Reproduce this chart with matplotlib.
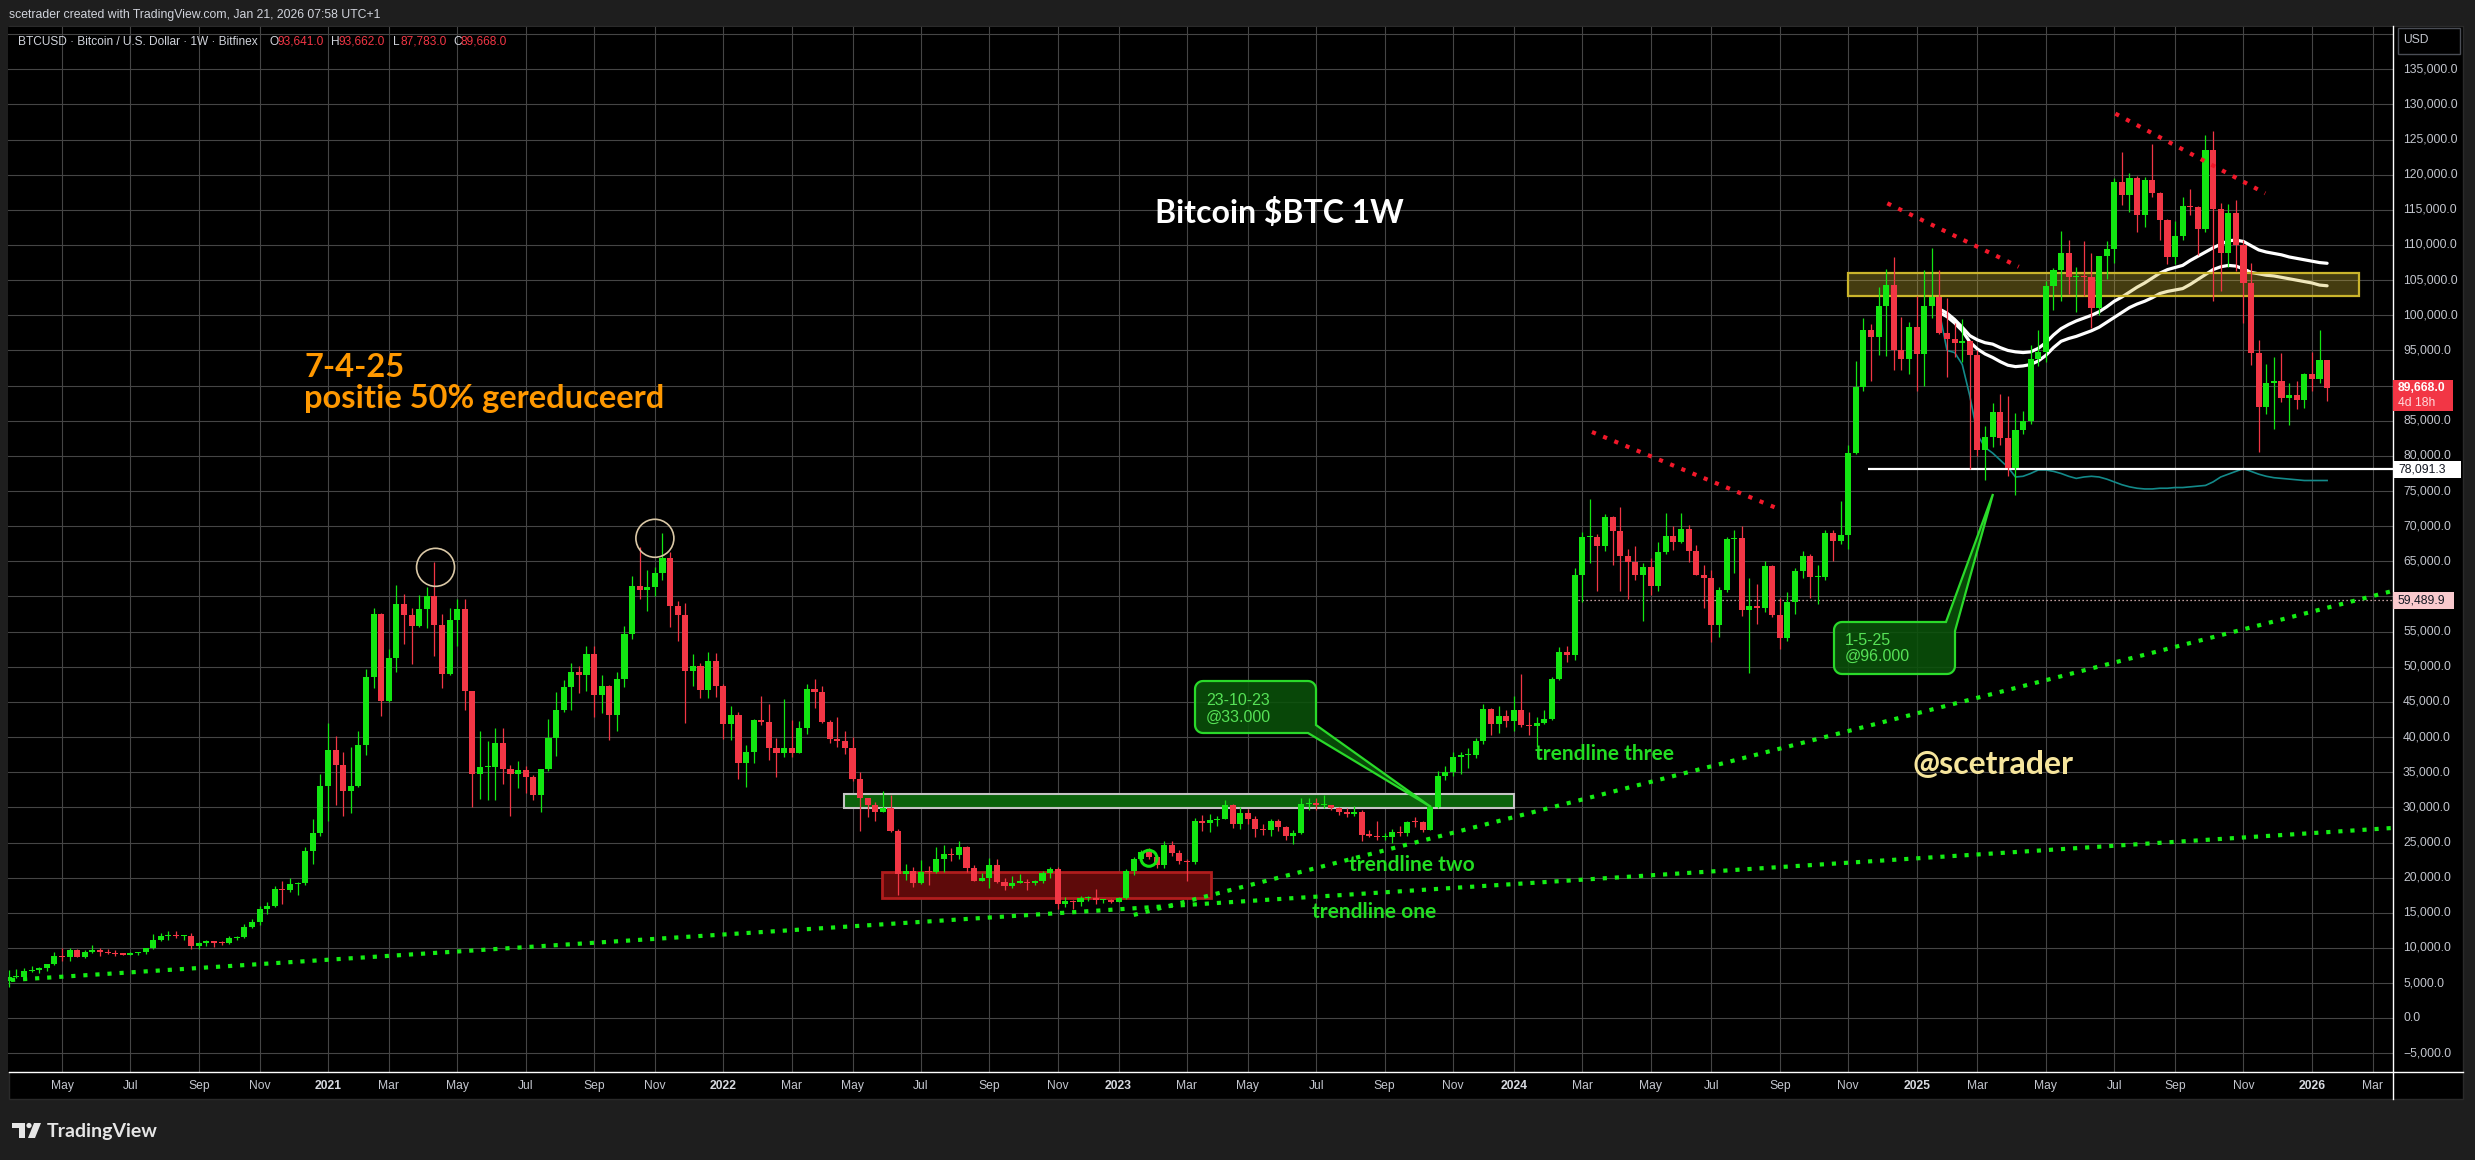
import numpy as np
import pandas as pd
import matplotlib
matplotlib.use("Agg")
import matplotlib.pyplot as plt
from matplotlib.patches import Rectangle, Ellipse, Polygon, Circle
from matplotlib.lines import Line2D
from matplotlib.transforms import Affine2D

# ---------------- data (weekly BTCUSD, Bitfinex) ----------------
first_week = "2020-03-16"
first_open = 5360

closes_2020 = [5830, 5880, 6780, 6900, 7120, 7700, 8900, 8720, 9680, 8720, 9450, 9750, 9380, 9300,
               9120, 9070, 9250, 9380, 9930, 11070, 11680, 11900, 11650, 11710, 10250, 10680, 10930,
               10780, 10680, 11380, 11500, 13030, 13740, 15480, 15960, 18400, 18180, 19150, 19270,
               23850, 26300, 33000]
highs_2020 = [6900, 6980, 7200, 7470, 7300, 7770, 9450, 10060, 9950, 9900, 9750, 10400, 9990, 9800,
              9780, 9320, 9480, 9400, 10040, 12000, 12080, 12470, 12480, 11800, 12090, 10800, 11100,
              10960, 10950, 11700, 11720, 13370, 14070, 15970, 16480, 18800, 19480, 19900, 19420,
              24300, 28400, 34800]
lows_2020 = [4450, 5680, 5860, 6650, 6460, 6750, 7650, 8120, 8200, 8700, 8630, 9300, 8900, 9200,
             8800, 8940, 9060, 9000, 9150, 9900, 10950, 11140, 11370, 11120, 9880, 9900, 10220,
             10150, 10380, 10540, 11200, 11400, 12900, 13200, 14800, 15800, 16200, 18000, 17600,
             19000, 22000, 26000]

closes_2021 = [38200, 36000, 32300, 33100, 38900, 48600, 57500, 45200, 51200, 59000, 57300, 55800,
               58200, 60000, 56000, 49000, 56600, 58200, 46500, 34700, 35700, 35800, 39100, 35500,
               34700, 35300, 34300, 31800, 35400, 39900, 43800, 47100, 49300, 48800, 51800, 46000,
               47250, 43200, 48200, 54700, 61500, 60900, 61300, 63300, 65500, 58600, 57300, 49400,
               50100, 46700, 50800, 47300]
highs_2021 = [41950, 40100, 37850, 38600, 40900, 49700, 58300, 57600, 52600, 61700, 60400, 58400,
              60200, 61300, 64850, 57500, 58400, 59600, 59600, 46600, 40800, 39400, 41300, 41300,
              36000, 36600, 35900, 34600, 35500, 42600, 46400, 48100, 50500, 50100, 52900, 52900,
              48800, 47400, 49200, 55800, 62900, 67000, 63700, 64200, 69000, 66300, 59300, 59100,
              51800, 50500, 52100, 52000]
lows_2021 = [28130, 30400, 28800, 29250, 32900, 37400, 47000, 43000, 45000, 49300, 53300, 50400,
             55600, 55500, 51500, 47000, 48800, 53000, 43800, 30000, 31200, 31100, 31000, 33300,
             28800, 32700, 32100, 31000, 29300, 35200, 37300, 43600, 43900, 46300, 46500, 42800,
             43400, 39600, 40800, 47100, 53900, 59600, 58000, 60100, 62300, 55600, 53600, 42000,
             47200, 45500, 45600, 45700]

closes_2022 = [41800, 43100, 36300, 37900, 42400, 42200, 38400, 37700, 38400, 37800, 41300, 46800,
               46400, 42200, 39700, 39500, 38450, 34000, 31300, 30300, 29400, 29900, 26600, 20500,
               21000, 19300, 20800, 20750, 22600, 23400, 23200, 24300, 21400, 19600, 19900, 21800,
               19420, 18800, 19300, 19400, 19200, 19600, 20600, 21200, 16300, 16700, 16500, 17100,
               17100, 16800, 16800, 16600]
highs_2022 = [47600, 44400, 43500, 38900, 42600, 45800, 44700, 39900, 45400, 42500, 42300, 47500,
              48200, 47200, 42400, 42900, 40800, 40000, 35000, 31300, 30700, 32400, 31700, 26900,
              21900, 21500, 22500, 21600, 24300, 24700, 24200, 25200, 24500, 21800, 20600, 22800,
              22700, 19900, 20300, 20500, 19800, 19700, 21000, 21500, 21500, 17200, 16800, 17400,
              17400, 18400, 17000, 16900]
lows_2022 = [39700, 39600, 34000, 32900, 36300, 41700, 36800, 34300, 37200, 37200, 37700, 40500,
             44200, 42000, 39200, 38600, 37600, 33700, 26700, 28700, 28000, 29300, 26500, 17600,
             19700, 18700, 19100, 18900, 20700, 20800, 22400, 22700, 20800, 19500, 19500, 18600,
             19300, 18200, 18500, 19200, 18200, 18900, 19300, 20000, 15600, 15800, 15500, 16000,
             16700, 16300, 16400, 16400]

closes_2023 = [17100, 20900, 22700, 23700, 22900, 21800, 24600, 23500, 22400, 22200, 28000, 27800,
               28200, 28400, 30300, 27600, 29200, 28400, 26900, 26750, 28080, 27230, 25900, 26300,
               30500, 30600, 30300, 30300, 29900, 29300, 29000, 29400, 26100, 26000, 25800, 25800,
               26500, 26300, 27980, 27940, 26850, 29990, 34500, 35000, 37100, 37400, 37500, 39500,
               44000, 41900, 43000, 42300]
highs_2023 = [17200, 21300, 23000, 23900, 24200, 23200, 25200, 25200, 23900, 22600, 28500, 28900,
              29100, 28800, 31000, 30500, 30000, 29800, 28800, 27600, 28400, 28400, 27400, 26800,
              31400, 31300, 31400, 31800, 30400, 30000, 29900, 30200, 29700, 26800, 28100, 26400,
              26900, 27400, 28100, 28600, 28000, 30300, 35200, 35900, 37900, 37900, 38400, 39800,
              44700, 44100, 44400, 43800]
lows_2023 = [16500, 17000, 20400, 22300, 22600, 21400, 21400, 23100, 21900, 19600, 21900, 26600,
             26500, 27300, 28300, 27000, 26900, 27700, 25800, 26100, 25900, 26600, 25300, 24800,
             26200, 29600, 29700, 29900, 29600, 28900, 28600, 28800, 25200, 25800, 25300, 25400,
             24900, 26000, 26000, 27200, 26500, 26800, 29900, 33900, 34500, 34800, 35600, 37000,
             39000, 40300, 40600, 41500]

closes_2024 = [43900, 41700, 41600, 42000, 42600, 48300, 52100, 51700, 63000, 68400, 68400, 67200,
               71300, 69300, 65700, 64950, 63100, 64150, 61500, 66300, 68600, 67700, 69600, 66500,
               63100, 62700, 55900, 60900, 68200, 68300, 58100, 58700, 58400, 64300, 57300, 54100,
               59200, 63600, 65700, 62800, 62800, 69000, 67900, 68750, 80400, 89800, 97900, 96900,
               101300, 104300, 95100, 93800, 98400]
highs_2024 = [45900, 49000, 43500, 42800, 43800, 48500, 52800, 52900, 64000, 69200, 73800, 68900,
              71800, 71400, 72700, 66800, 67200, 64700, 65500, 67700, 71900, 70000, 71900, 70200,
              67300, 64500, 63800, 61300, 68500, 69400, 70000, 62700, 61800, 65000, 64500, 59800,
              60600, 64100, 66500, 66000, 64500, 69500, 69500, 73600, 81500, 93500, 99600, 98700,
              104000, 106600, 108300, 99800, 99000]
lows_2024 = [40800, 41500, 40300, 38600, 41900, 42500, 48100, 50700, 50900, 59200, 64700, 60800,
             66500, 64500, 60800, 59600, 62400, 56500, 60200, 60800, 66100, 66600, 67600, 64900,
             63000, 58400, 53500, 54200, 60700, 63400, 57200, 49100, 56100, 57800, 57100, 52600,
             53600, 57500, 62700, 59800, 58900, 62400, 65000, 67500, 66800, 80200, 89300, 90700,
             94300, 94200, 92200, 92200, 91700]

closes_2025 = [94500, 101300, 102600, 97500, 96600, 96100, 96400, 94300, 80800, 82700, 86300, 82500,
               78300, 83700, 85000, 93800, 94800, 104200, 106400, 108800, 105500, 105600, 105500,
               101000, 108400, 109400, 118900, 117100, 119600, 114300, 119300, 117400, 113600,
               108300, 111300, 115500, 115400, 112300, 123500, 115100, 108800, 114600, 110000,
               104600, 94600, 86900, 90400, 90600, 88200, 88600, 87900, 91600]
highs_2025 = [102700, 106400, 109600, 106400, 102500, 98900, 99500, 96500, 95000, 84300, 87500,
              88800, 88500, 86100, 86400, 95800, 97900, 104900, 106700, 112000, 110700, 106800,
              110500, 108900, 108500, 110500, 119500, 123200, 120300, 119800, 119700, 124400,
              117600, 113700, 113400, 116800, 117900, 115500, 125700, 126200, 116000, 115900,
              116400, 110700, 107500, 96500, 93100, 94000, 94600, 90400, 90600, 91800]
lows_2025 = [89300, 89900, 99600, 97300, 91200, 94100, 93400, 78200, 80000, 76600, 81200, 81600,
             77100, 74500, 83100, 84600, 92800, 93400, 100700, 102100, 103100, 100400, 102700,
             98200, 100000, 105100, 107500, 115700, 114700, 111900, 112600, 116800, 110700, 107300,
             107300, 110700, 114300, 108600, 111800, 102000, 103500, 106800, 106300, 98900, 93000,
             80600, 86000, 83800, 87600, 84400, 86600, 86800]

closes_2026 = [90900, 93641, 89668]
highs_2026 = [94800, 97900, 93662]
lows_2026 = [89300, 90400, 87783]

closes = closes_2020 + closes_2021 + closes_2022 + closes_2023 + closes_2024 + closes_2025 + closes_2026
highs = highs_2020 + highs_2021 + highs_2022 + highs_2023 + highs_2024 + highs_2025 + highs_2026
lows = lows_2020 + lows_2021 + lows_2022 + lows_2023 + lows_2024 + lows_2025 + lows_2026
assert len(closes) == len(highs) == len(lows) == 306

# anchored lines from the 2025 top (two white bands, one teal)
band_start = "2025-01-27"
band_upper = [100900, 100300, 99400, 98300, 97100, 96500, 96100, 95900, 95400, 95000,
              94800, 94700, 94800, 95300, 96100, 97200, 98100, 98700, 99200, 99600,
              100000, 100500, 101200, 102000, 102600, 103300, 104000, 104600, 105300, 106000,
              106500, 106800, 107100, 107800, 108400, 109000, 109600, 110100, 110600, 110700,
              110500, 109900, 109300, 109000, 108800, 108600, 108300, 108100, 107900, 107700,
              107500, 107400]
band_lower = [100400, 99800, 98900, 97800, 96200, 95200, 94500, 94000, 93400, 92900,
              92700, 92800, 93000, 93500, 94300, 95400, 96300, 96700, 97000, 97400,
              97800, 98300, 99000, 99700, 100400, 101100, 101600, 102000, 102500, 103100,
              103400, 103600, 103800, 104400, 105100, 105800, 106500, 106900, 107100, 107000,
              106600, 106100, 105900, 105700, 105600, 105400, 105200, 105000, 104800, 104600,
              104300, 104200]
band_teal = [100400, 95000, 94700, 93000, 88500, 83000, 81200, 80400, 79400, 78400,
             77000, 77100, 77500, 78000, 78000, 77800, 77500, 77100, 76800, 77000,
             77100, 77000, 76700, 76300, 75900, 75600, 75400, 75300, 75300, 75400,
             75400, 75500, 75500, 75600, 75700, 75800, 76300, 77000, 77400, 77800,
             78200, 77800, 77400, 77100, 76900, 76800, 76700, 76600, 76500, 76500,
             76500, 76500]

# drawings on the chart
green_zone = [29900, 31900]
green_zone_dates = ["2022-04-24", "2024-01-01"]
red_zone = [17050, 20750]
red_zone_dates = ["2022-05-29", "2023-03-28"]
yellow_zone = [102750, 106080]
yellow_zone_dates = ["2024-11-04", "2026-02-17"]
support_level = 78091.3
support_from = "2024-11-22"
dotted_level = 59489.9
dotted_from = "2024-02-29"
last_price = 89668.0
trend_one = [("2020-03-18", 5450), ("2026-03-20", 27070)]
trend_two = [("2023-01-16", 14700), ("2026-03-20", 60780)]
red_trends = [[("2024-03-13", 83400), ("2024-09-01", 72450)],
              [("2024-12-10", 115930), ("2025-04-10", 106910)],
              [("2025-07-08", 128690), ("2025-11-23", 117350)]]
top_circles = [("2021-04-13", 64150), ("2021-11-01", 68280)]
small_circle = ("2023-01-30", 22760)

legend_ohlc = [("O", "93,641.0"), ("H", "93,662.0"), ("L", "87,783.0"), ("C", "89,668.0")]

# ---------------- layout / style ----------------
W, H = 2475, 1160
AX_L, AX_R, AX_T, AX_B = 8, 2393, 27, 1072
BAR_PX = 7.601
XMIN = -0.105
XMAX = XMIN + (AX_R - AX_L) / BAR_PX
YMIN, YMAX = -7640, 141010
BG = "#1e1e1e"
GREEN = "#12e612"
RED = "#f23645"
GRID = "#454545"
AXTXT = "#c3c6ce"
TLINE = "#22dd22"
BOLD_FONT = ["Lato", "DejaVu Sans"]

plt.rcParams['font.family'] = ['Liberation Sans', 'DejaVu Sans']

t0 = pd.Timestamp(first_week)


def bar_of(d):
    return (pd.Timestamp(d) - t0).days / 7.0


def py(p):
    return AX_T + (YMAX - p) / (YMAX - YMIN) * (AX_B - AX_T)


fig = plt.figure(figsize=(W / 100, H / 100), dpi=100, facecolor=BG)
PX = Affine2D().scale(1.0 / W, -1.0 / H).translate(0, 1) + fig.transFigure

# panel background
fig.patches.append(Rectangle((9, 26), 2463 - 9, 1099 - 26, transform=PX,
                             facecolor="black", edgecolor="#2a2a2a", lw=1, zorder=-10))

ax = fig.add_axes([AX_L / W, 1 - AX_B / H, (AX_R - AX_L) / W, (AX_B - AX_T) / H])
ax.set_facecolor("black")
ax.set_xlim(XMIN, XMAX)
ax.set_ylim(YMIN, YMAX)
for s in ax.spines.values():
    s.set_visible(False)

# time labels / vertical grid
dates = pd.date_range(first_week, periods=320, freq="7D")
tick_bars, tick_labels = [], []
for i in range(1, len(dates)):
    d, prev = dates[i], dates[i - 1]
    if d.month != prev.month and d.month % 2 == 1:
        if AX_L + (i - XMIN) * BAR_PX < AX_R - 12:
            tick_bars.append(i)
            tick_labels.append(str(d.year) if d.month == 1 else d.strftime("%b"))

ax.set_xticks(tick_bars)
ax.set_yticks(np.arange(-5000, 140001, 5000))
ax.tick_params(length=0, labelbottom=False, labelleft=False)
ax.grid(True, color=GRID, lw=0.8, zorder=0)
ax.set_axisbelow(True)

# candles
x = np.arange(len(closes))
c = np.array(closes, dtype=float)
o = np.concatenate([[first_open], c[:-1]])
col = np.where(c >= o, GREEN, RED)
ax.vlines(x, lows, highs, colors=col, lw=0.9, zorder=4)
body_lo = np.minimum(o, c)
body_h = np.maximum(np.abs(c - o), 160)
ax.bar(x, body_h, bottom=body_lo, width=0.8, color=col, lw=0, zorder=4)

# anchored bands
bx = bar_of(band_start) + np.arange(len(band_upper))
ax.plot(bx, band_upper, color="white", lw=2.3, zorder=2.5, solid_capstyle="round")
ax.plot(bx, band_lower, color="white", lw=2.3, zorder=2.5, solid_capstyle="round")
ax.plot(bx, band_teal, color="#138a8a", lw=1.2, zorder=2.5)

# zones
ax.add_patch(Rectangle((bar_of(green_zone_dates[0]), green_zone[0]),
                       bar_of(green_zone_dates[1]) - bar_of(green_zone_dates[0]),
                       green_zone[1] - green_zone[0], facecolor="#0b620b",
                       edgecolor="#c4c4c4", lw=1.5, zorder=3))
ax.add_patch(Rectangle((bar_of(red_zone_dates[0]), red_zone[0]),
                       bar_of(red_zone_dates[1]) - bar_of(red_zone_dates[0]),
                       red_zone[1] - red_zone[0], facecolor="#5e0a0a",
                       edgecolor="#b01d1d", lw=2.0, zorder=3))
ax.add_patch(Rectangle((bar_of(yellow_zone_dates[0]), yellow_zone[0]),
                       bar_of(yellow_zone_dates[1]) - bar_of(yellow_zone_dates[0]),
                       yellow_zone[1] - yellow_zone[0], facecolor=(0.82, 0.72, 0.2, 0.33),
                       edgecolor="#cbb52c", lw=1.6, zorder=3.5))

# horizontal levels
ax.hlines(support_level, bar_of(support_from), XMAX, color="white", lw=1.6, zorder=3.6)
ax.hlines(dotted_level, bar_of(dotted_from), XMAX, color="#ffd2d2", lw=0.9,
          linestyles=(0, (1, 2.2)), zorder=3.6)


# dotted trendlines
def dotted(pts, color):
    xs = [bar_of(p[0]) for p in pts]
    ys = [p[1] for p in pts]
    ax.plot(xs, ys, color=color, lw=3.0, dashes=(1, 1.9), dash_capstyle="butt", zorder=5)


dotted(trend_one, "#14ee14")
dotted(trend_two, "#14ee14")
for rt in red_trends:
    dotted(rt, "#f2182a")

# circles
px_per_usd = (AX_B - AX_T) / (YMAX - YMIN)
for d, p in top_circles:
    ax.add_patch(Ellipse((bar_of(d), p), 38 / BAR_PX, 38 / px_per_usd, fill=False,
                         edgecolor="#dac8a6", lw=1.2, zorder=6))
ax.add_patch(Ellipse((bar_of(small_circle[0]), small_circle[1]), 16 / BAR_PX, 16 / px_per_usd,
                     fill=False, edgecolor=GREEN, lw=2.2, zorder=6))

# chart texts (pixel placed)
fig.text(1279, 213, r"Bitcoin \$BTC 1W", transform=PX, ha="center", va="center",
         color="white", fontsize=23, fontweight="bold", family=BOLD_FONT)
fig.text(304, 377, "7-4-25", transform=PX, ha="left", va="baseline",
         color="#ff9800", fontsize=23.5, fontweight="bold", family=BOLD_FONT)
fig.text(304, 408, "positie 50% gereduceerd", transform=PX, ha="left", va="baseline",
         color="#ff9800", fontsize=23.5, fontweight="bold", family=BOLD_FONT)
fig.text(1913, 765, "@scetrader", transform=PX, ha="left", va="center",
         color="#f6e59c", fontsize=23, fontweight="bold", family=BOLD_FONT)
for s, tx, ty in [("trendline three", 1535, 754), ("trendline two", 1349, 865),
                  ("trendline one", 1312, 912)]:
    fig.text(tx, ty, s, transform=PX, ha="left", va="center", color=TLINE,
             fontsize=15, fontweight="bold", family=BOLD_FONT)


# callouts
def arc(cx, cy, r, a0, a1, n=8):
    t = np.radians(np.linspace(a0, a1, n))
    return list(zip(cx + r * np.cos(t), cy + r * np.sin(t)))


r = 8
x0, y0, x1, y1 = 1195, 681, 1316, 733
pts1 = (arc(x0 + r, y0 + r, r, 180, 270) + arc(x1 - r, y0 + r, r, 270, 360)
        + [(x1, 725), (1431, 807), (1308, y1)] + arc(x0 + r, y1 - r, r, 90, 180))
x0b, y0b, x1b, y1b = 1834, 622, 1955, 674
pts2 = (arc(x0b + r, y0b + r, r, 180, 270) + [(1946, y0b), (1993, 494), (x1b, 631)]
        + arc(x1b - r, y1b - r, r, 0, 90) + arc(x0b + r, y1b - r, r, 90, 180))
for pts in (pts1, pts2):
    fig.patches.append(Polygon(pts, closed=True, transform=PX, facecolor=(0.04, 0.32, 0.04, 0.88),
                               edgecolor="#2ada2a", lw=1.6, zorder=7))
for s, tx, ty in [("23-10-23", 1206, 705), ("@33.000", 1206, 722),
                  ("1-5-25", 1845, 645), ("@96.000", 1845, 661)]:
    fig.text(tx, ty, s, transform=PX, ha="left", va="baseline", color="#56e256", fontsize=11.5,
             zorder=8)

# axes separators
fig.add_artist(Line2D([AX_R, AX_R], [26, 1099], transform=PX, color="white", lw=1.0))
fig.add_artist(Line2D([9, 2463], [AX_B, AX_B], transform=PX, color="white", lw=1.0))

# price tags (boxes in pixel rows)
tags = [(last_price, -8, 31, 60, RED), (support_level, -8.5, 17, 68, "white"),
        (dotted_level, -8.5, 17, 61, "#f9c9cd")]
covered = [(py(p) + top, py(p) + top + h) for p, top, h, w, fc in tags]

# price scale (labels hidden behind a tag are skipped, as on the reference)
for p in range(-5000, 135001, 5000):
    yp = py(p)
    if any(a - 3 < yp < b + 3 for a, b in covered):
        continue
    lab = f"{abs(p):,.1f}"
    if p < 0:
        lab = "\u2212" + lab
    fig.text(2403, yp, lab, transform=PX, ha="left", va="center", color=AXTXT, fontsize=8.7)

for p, top, h, w, fc in tags:
    fig.patches.append(Rectangle((AX_R, py(p) + top), w, h, transform=PX, facecolor=fc, lw=0, zorder=9))

yt = py(last_price)
fig.text(2398, yt, f"{last_price:,.1f}", transform=PX, ha="left", va="center", color="white",
         fontsize=8.7, fontweight="bold", zorder=10)
fig.text(2398, yt + 15, "4d 18h", transform=PX, ha="left", va="center", color="#ffd9dc",
         fontsize=8.7, zorder=10)
fig.text(2398, py(support_level), f"{support_level:,.1f}", transform=PX, ha="left", va="center",
         color="#131722", fontsize=8.7, zorder=10)
fig.text(2398, py(dotted_level), f"{dotted_level:,.1f}", transform=PX, ha="left", va="center",
         color="#131722", fontsize=8.7, zorder=10)

# USD box
fig.patches.append(Rectangle((2398, 28), 62, 26, transform=PX, facecolor="black",
                             edgecolor="#4a4d55", lw=1.0, zorder=9))
fig.text(2416, 40, "USD", transform=PX, ha="center", va="center", color=AXTXT, fontsize=8.7, zorder=10)

# time labels
for b, lab in zip(tick_bars, tick_labels):
    xp = AX_L + (b - XMIN) * BAR_PX
    yr = lab.isdigit()
    fig.text(xp, 1086, lab, transform=PX, ha="center", va="center",
             color="#d8dae0" if yr else AXTXT, fontsize=8.7,
             fontweight="bold" if yr else "normal")

# header + legend row
fig.text(9, 15, "scetrader created with TradingView.com, Jan 21, 2026 07:58 UTC+1", transform=PX,
         ha="left", va="center", color="#d1d4dc", fontsize=8.8)
fig.text(18, 42, "BTCUSD \u00b7 Bitcoin / U.S. Dollar \u00b7 1W \u00b7 Bitfinex", transform=PX,
         ha="left", va="center", color="#d1d4dc", fontsize=8.6)
for (k, v), kx in zip(legend_ohlc, [270, 331, 393, 453]):
    fig.text(kx, 42, k, transform=PX, ha="left", va="center", color="#d1d4dc", fontsize=8.6)
    fig.text(kx + 7.5, 42, v, transform=PX, ha="left", va="center", color=RED, fontsize=8.6)

# TradingView logo
LOGO = "#e6e6e6"
fig.patches.append(Polygon([(12, 1123), (25, 1123), (25, 1138), (19, 1138), (19, 1128), (12, 1128)],
                           closed=True, transform=PX, facecolor=LOGO, lw=0))
fig.patches.append(Circle((29, 1125.5), 2.6, transform=PX, facecolor=LOGO, lw=0))
fig.patches.append(Polygon([(34, 1123), (41, 1123), (35, 1138), (28, 1138)], closed=True,
                           transform=PX, facecolor=LOGO, lw=0))
fig.text(47, 1131, "TradingView", transform=PX, ha="left", va="center", color=LOGO,
         fontsize=14, fontweight="bold", family=BOLD_FONT)

fig.savefig("out.png", dpi=100, facecolor=BG)
